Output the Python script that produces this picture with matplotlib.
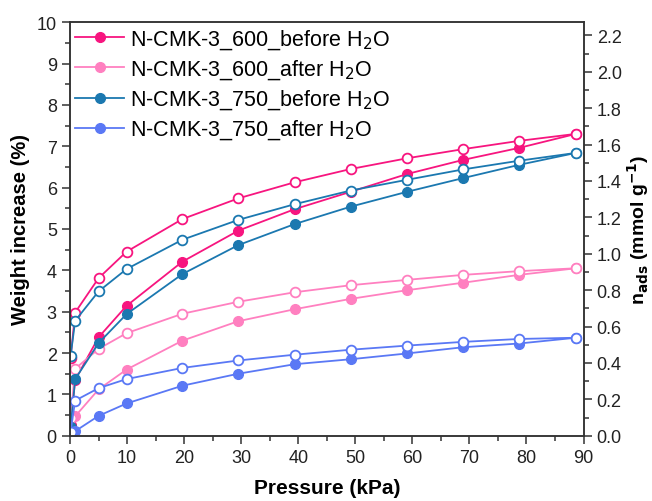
import numpy as np
import matplotlib
matplotlib.use("Agg")
import matplotlib.pyplot as plt
from matplotlib.ticker import MultipleLocator

plt.rcParams['font.family'] = ['Liberation Sans', 'DejaVu Sans']

# pressure points (kPa)
p_ads = [0.1, 0.9, 5.0, 9.9, 19.7, 29.5, 39.4, 49.2, 59.1, 68.9, 78.7, 88.7]
p_des = [88.7, 78.7, 68.9, 59.1, 49.2, 39.4, 29.5, 19.7, 9.9, 5.0, 0.9, 0.1]

# weight increase (%), adsorption / desorption branches
w600_before_ads = [0.25, 1.35, 2.38, 3.14, 4.21, 4.96, 5.48, 5.90, 6.33, 6.67, 6.96, 7.30]
w600_before_des = [7.30, 7.13, 6.93, 6.71, 6.45, 6.13, 5.74, 5.24, 4.45, 3.81, 2.98, 1.88]
w600_after_ads = [0.08, 0.47, 1.12, 1.60, 2.30, 2.77, 3.06, 3.31, 3.52, 3.70, 3.89, 4.05]
w600_after_des = [4.05, 3.98, 3.89, 3.77, 3.64, 3.47, 3.24, 2.95, 2.48, 2.10, 1.62, 0.43]
w750_before_ads = [0.20, 1.37, 2.24, 2.94, 3.91, 4.61, 5.12, 5.54, 5.90, 6.23, 6.55, 6.84]
w750_before_des = [6.84, 6.65, 6.44, 6.19, 5.93, 5.60, 5.22, 4.74, 4.03, 3.49, 2.78, 1.93]
w750_after_ads = [0.05, 0.11, 0.48, 0.78, 1.21, 1.50, 1.73, 1.85, 1.99, 2.14, 2.23, 2.37]
w750_after_des = [2.37, 2.34, 2.27, 2.18, 2.08, 1.96, 1.82, 1.64, 1.37, 1.15, 0.85, 0.10]

labels = ['N-CMK-3_600_before H$_2$O', 'N-CMK-3_600_after H$_2$O',
          'N-CMK-3_750_before H$_2$O', 'N-CMK-3_750_after H$_2$O']
colors = ['#F7157F', '#FF80C0', '#1B78B0', '#5A78F5']

series = [(w600_before_ads, w600_before_des),
          (w600_after_ads, w600_after_des),
          (w750_before_ads, w750_before_des),
          (w750_after_ads, w750_after_des)]

fig = plt.figure(figsize=(6.52, 5.02), dpi=100)
ax = fig.add_axes([0.1074, 0.130, 0.7876, 0.8238])

for (ads, des), c, lab in zip(series, colors, labels):
    ax.plot(p_ads, ads, '-o', color=c, lw=1.3, ms=7, mfc=c, mec=c, label=lab)
    ax.plot(p_des, des, '-o', color=c, lw=1.3, ms=7, mfc='white', mec=c, mew=1.3)

ax.set_xlim(0, 90)
ax.set_ylim(0, 10)
ax.xaxis.set_major_locator(MultipleLocator(10))
ax.xaxis.set_minor_locator(MultipleLocator(5))
ax.yaxis.set_major_locator(MultipleLocator(1))
ax.yaxis.set_minor_locator(MultipleLocator(0.5))
ax.tick_params(which='both', direction='out', width=1.1, labelsize=13,
               top=False, right=False, colors='#333333', labelcolor='#222222')
ax.tick_params(which='major', length=6)
ax.tick_params(which='minor', length=3.5)
for s in ax.spines.values():
    s.set_linewidth(1.1)
    s.set_color('#333333')

ax.set_xlabel('Pressure (kPa)', fontsize=15, fontweight='bold', labelpad=9)
ax.set_ylabel('Weight increase (%)', fontsize=14.5, fontweight='bold', labelpad=5)

# right axis: mmol CO2 per g
ax2 = ax.twinx()
ax2.set_ylim(0, 10 / 4.401)
ax2.yaxis.set_major_locator(MultipleLocator(0.2))
ax2.yaxis.set_minor_locator(MultipleLocator(0.1))
ax2.yaxis.set_major_formatter(matplotlib.ticker.FormatStrFormatter('%.1f'))
ax2.tick_params(which='both', direction='out', width=1.1, labelsize=13,
                colors='#333333', labelcolor='#222222')
ax2.tick_params(which='major', length=6)
ax2.tick_params(which='minor', length=3.5)
for s in ax2.spines.values():
    s.set_linewidth(1.1)
    s.set_color('#333333')
ax2.set_ylabel('n$_{\\mathbf{ads}}$ (mmol g$^{\\mathbf{-1}}$)', fontsize=14,
               fontweight='bold', labelpad=2)

ax.legend(loc='upper left', frameon=False, fontsize=15.5, handlelength=2.25,
          handletextpad=0.3, labelspacing=0.3, borderpad=0.1,
          borderaxespad=0.15)

fig.savefig('out.png', dpi=100)
